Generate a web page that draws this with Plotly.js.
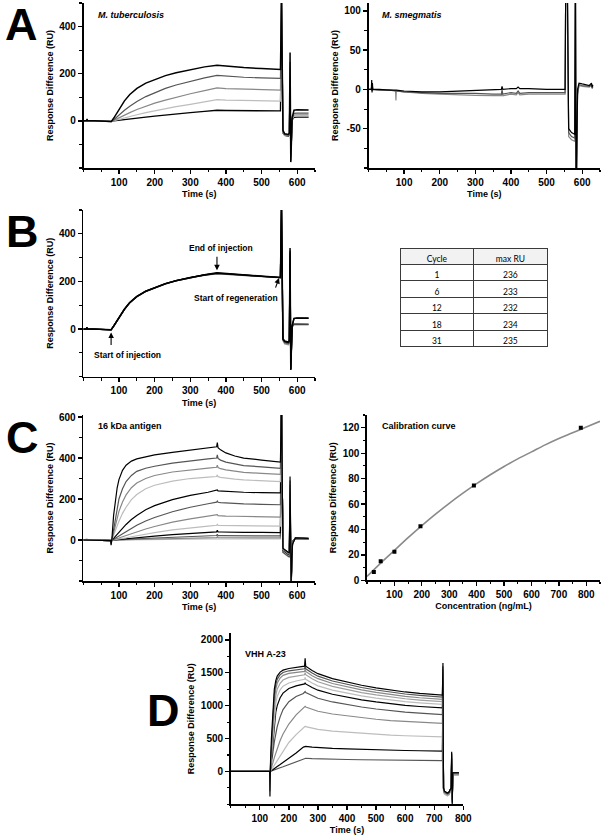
<!DOCTYPE html>
<html>
<head>
<meta charset="utf-8">
<script src="https://cdn.plot.ly/plotly-3.0.1.min.js"></script>
<style>html,body{margin:0;padding:0;background:#fff;}#chart{width:603px;height:838px;}</style>
</head>
<body>
<div id="chart"></div>
<script>
// ---------------- DATA ----------------
// Panel A (M. tuberculosis)
const tA = [0, 9, 10, 11, 30, 60, 78, 85, 90, 100, 115, 130, 150, 175, 200, 230, 260, 300, 340, 375, 400, 450, 500, 553, 556, 560, 565, 575, 578, 580, 582, 586, 591, 600, 632];
const A1 = [0,0,8,0,0,-1,-3,12,25,50,85,112,138,160,176,192,204,218,229,236,232,226,222,218,520,-40,-55,-58,-52,290,-175,15,45,47,46];
const A2 = [0,0,4,0,0,-1,-2,5,12,25,45,62,82,103,120,138,152,168,182,193,190,185,182,180,520,-45,-58,-60,-55,250,-170,10,32,33,33];
const A3 = [0,0,3,0,0,-1,-2,2,6,14,25,35,48,62,75,88,100,115,128,140,137,134,132,130,520,-48,-60,-62,-57,230,-165,8,25,26,26];
const A4 = [0,0,2,0,0,-1,-2,1,3,7,13,19,26,35,43,52,60,70,81,90,88,86,85,84,520,-50,-62,-64,-58,200,-160,6,20,21,21];
const A5 = [0,0,5,0,0,-1,-3,0,1,3,6,9,12,16,20,25,29,35,40,45,44,43,43,42,520,-52,-62,-65,-58,180,-150,4,15,16,16];

// Panel A (M. smegmatis)
const tS = [0, 8, 9, 10, 11, 12, 30, 60, 76, 77, 78, 100, 150, 200, 250, 300, 350, 373, 375, 377, 400, 415, 420, 425, 450, 500, 552, 554, 558, 562, 570, 579, 581, 583, 587, 591, 600, 620, 626, 628, 630];
const S1 = [0,0,12,-4,8,0,0,-1,-1,-1,-1,-2,-3,-3,-2,-1,0,0,4,0,1,1,3,1,1,0,0,150,150,-50,-55,-57,150,-150,0,8,7,5,8,3,6];
const S2 = [0,0,6,-2,4,0,-1,-1,-2,-2,-2,-3,-4,-5,-5,-5,-6,-6,-1,-6,-4,-5,-2,-5,-4,-4,-4,150,150,-55,-60,-62,150,-150,-5,6,5,4,6,2,4];
const S3 = [0,0,4,-2,3,0,-1,-1,-2,-14,-2,-3,-5,-6,-7,-7.5,-8,-8,-2,-8,-6,-7,-4,-7,-6,-6,-6,150,150,-60,-64,-66,150,-150,-8,5,4,3,5,1,3];

// Panel B (repeated cycles)
const tB = [0, 9, 10, 11, 30, 60, 78, 85, 90, 100, 115, 130, 150, 175, 200, 230, 260, 300, 340, 375, 400, 450, 500, 553, 556, 560, 565, 575, 578, 580, 582, 586, 591, 600, 632];
const B1 = [0,0,8,0,0,-1,-3,12,24,48,83,111,137,159,175,191,203,217,228,236,233,227,222,217,520,-40,-50,-54,-48,340,-172,15,45,47,46];
const B2 = [0,0,6,0,0,-1,-3,11,23,47,82,110,136,158,174,190,202,216,227,233,231,225,220,216,520,-45,-58,-62,-56,320,-168,10,22,22,21];
const B3 = [0,0,5,0,0,-1,-3,11,23,46,81,109,135,157,173,189,202,216,226,232,230,225,220,215,520,-48,-62,-66,-58,300,-165,8,18,19,18];
const B4 = [0,0,7,0,0,-1,-3,12,24,47,82,110,136,158,174,190,203,217,227,234,232,226,221,216,520,-42,-52,-56,-50,330,-170,14,44,46,45];
const B5 = [0,0,6,0,0,-1,-3,12,24,48,83,111,137,159,175,191,203,217,228,235,232,226,221,217,520,-44,-55,-58,-52,310,-170,12,20,21,20];
const tableCycle = ['1', '6', '12', '18', '31'];
const tableMaxRU = ['236', '233', '232', '234', '235'];

// Panel C (16 kDa antigen)
const tC = [0, 10, 11, 30, 60, 77, 78, 80, 85, 90, 95, 100, 110, 120, 135, 150, 175, 200, 250, 300, 350, 374, 376, 378, 385, 400, 425, 450, 500, 553, 556, 560, 575, 578, 580, 583, 587, 595, 632];
const C1 = [0,0,0,0,0,-3,-25,0,120,200,255,295,340,365,385,396,407,415,428,440,450,455,475,450,440,425,410,400,390,380,700,-40,-60,-62,310,-200,-20,10,8];
const C2 = [0,0,0,0,0,-3,-20,0,60,120,165,200,250,285,315,335,350,360,375,387,396,400,415,398,390,380,370,363,357,350,700,-42,-62,-64,290,-200,-18,10,8];
const C3 = [0,0,0,0,0,-3,-15,0,35,75,110,140,185,220,255,278,300,315,332,343,351,355,365,353,348,342,335,330,325,320,700,-44,-64,-66,270,-200,-16,10,8];
const C4 = [0,3,0,0,0,-3,-10,0,20,45,70,92,130,160,197,222,250,267,287,300,307,310,318,309,306,302,297,293,289,285,700,-46,-66,-68,250,-210,-14,9,7];
const C5 = [0,0,0,0,0,-3,-8,0,8,18,28,38,58,76,100,120,148,168,197,218,233,240,244,240,239,237,235,233,231,230,700,-48,-68,-70,230,-210,-12,9,7];
const C6 = [0,0,0,0,0,-3,-6,0,4,9,14,20,31,42,58,72,93,110,138,160,177,185,190,184,182,180,178,176,174,172,700,-50,-70,-72,210,-210,-10,9,7];
const C7 = [0,0,0,0,0,-3,-5,0,2,4,7,10,16,22,31,40,54,66,87,103,115,120,124,119,118,117,116,115,113,112,700,-52,-72,-74,190,-220,-10,8,6];
const C8 = [0,4,0,0,0,-3,-4,0,1,2,4,5,8,11,16,21,29,36,49,60,68,72,76,71,71,70,70,69,69,68,700,-54,-74,-76,170,-220,-8,8,6];
const C9 = [0,0,0,0,0,-3,-4,0,0,1,2,3,4,6,9,11,15,19,26,32,37,40,48,39,39,38,38,37,37,36,700,-56,-76,-78,150,-230,-8,8,6];
const C10 = [0,0,0,0,0,-3,-3,0,0,1,1,2,2,3,5,6,8,10,14,18,20,22,28,21,21,21,20,20,20,20,700,-58,-78,-80,130,-230,-6,7,5];
const C11 = [0,0,0,0,0,-3,-3,0,0,0,1,1,1,2,3,3,4,5,7,9,11,12,16,12,11,11,11,11,10,10,700,-60,-80,-82,110,-240,-6,7,5];
const C12 = [0,5,0,0,0,-3,-3,0,0,0,0,0,1,1,1,1,2,2,3,4,5,5,8,5,5,5,5,5,5,5,700,-62,-82,-84,90,-240,-4,6,4];

// Calibration curve
const calConc = [25, 50, 100, 195, 390, 780];
const calResp = [6.5, 15, 22.5, 42.5, 74.5, 120];
const fitConc = [0, 50, 100, 150, 200, 250, 300, 350, 400, 450, 500, 550, 600, 650, 700, 750, 800, 850];
const fitResp = [3, 13.5, 23.5, 33.5, 43, 52, 60.5, 68.5, 76, 83, 89.5, 95.5, 101, 106.5, 111.5, 116, 120.5, 125];

// Panel D (VHH A-23)
const tD = [0, 100, 133, 134, 135, 136, 137, 140, 145, 150, 155, 160, 170, 180, 200, 225, 250, 254, 256, 258, 280, 300, 350, 400, 450, 500, 550, 600, 650, 700, 728, 730, 732, 735, 740, 745, 750, 755, 758, 760, 762, 764, 785];
const D1 = [0,0,0,0,-380,0,150,500,950,1250,1380,1450,1510,1540,1565,1580,1595,1600,1720,1600,1534,1486,1411,1358,1310,1270,1235,1208,1186,1169,1160,1650,-250,-300,-320,-330,-320,-280,-250,300,-500,-20,-20];
const D2 = [0,0,0,0,0,0,120,420,850,1170,1320,1400,1470,1505,1530,1545,1556,1560,1600,1560,1496,1448,1375,1324,1276,1238,1203,1177,1156,1139,1130,1600,-260,-310,-330,-340,-330,-290,-260,280,-480,-25,-25];
const D3 = [0,0,0,0,-300,0,100,350,750,1080,1250,1340,1420,1460,1490,1505,1515,1520,1550,1520,1456,1410,1337,1286,1240,1201,1167,1142,1120,1104,1095,1550,-270,-320,-340,-350,-340,-300,-270,260,-470,-30,-30];
const D4 = [0,0,0,0,0,0,80,290,640,960,1150,1250,1340,1390,1430,1450,1463,1470,1500,1470,1409,1363,1294,1245,1199,1163,1130,1105,1085,1068,1060,1500,-280,-330,-350,-360,-350,-310,-280,240,-460,-35,-35];
const D5 = [0,0,0,0,0,0,60,230,540,840,1030,1140,1240,1295,1345,1375,1392,1400,1430,1400,1343,1301,1237,1191,1149,1115,1085,1062,1043,1028,1020,1450,-290,-340,-360,-370,-360,-320,-290,220,-450,-40,-40];
const D6 = [0,0,0,0,0,0,40,200,500,750,900,1000,1120,1190,1260,1300,1322,1330,1350,1330,1275,1235,1173,1129,1089,1056,1027,1005,987,972,965,1400,-260,-310,-330,-340,-330,-290,-260,200,-440,-45,-45];
const D7 = [0,0,0,0,0,0,25,100,280,450,580,680,830,940,1060,1140,1185,1200,1215,1200,1150,1113,1056,1016,979,949,922,902,885,872,865,1350,-270,-320,-340,-350,-340,-300,-270,180,-430,-50,-50];
const D8 = [0,0,0,0,0,0,15,50,130,210,285,350,470,570,720,860,965,980,990,980,943,915,873,843,815,793,773,758,745,735,730,1300,-280,-330,-350,-360,-350,-310,-280,160,-420,-50,-50];
const D9 = [0,0,0,0,0,0,8,25,60,100,140,180,250,320,440,560,665,680,685,680,657,640,613,595,578,564,551,542,534,528,525,1250,-290,-340,-360,-370,-360,-320,-290,140,-410,-50,-50];
const D10 = [0,0,0,0,0,0,4,12,30,45,60,75,105,135,200,280,370,380,383,380,370,362,350,342,334,328,322,318,314,311,310,1200,-250,-300,-320,-330,-320,-280,-250,120,-400,-20,-20];
const D11 = [0,0,0,0,0,0,2,6,15,25,32,40,55,70,105,150,195,200,201,200,195,191,185,181,177,174,171,169,167,166,165,1150,-260,-310,-330,-340,-330,-290,-260,100,-390,-25,-25];

// ---------------- STYLE ----------------
const W = 603, H = 838;
const K = '#000000', DG = '#555555', G = '#888888', MG = '#a0a0a0', LG = '#bdbdbd';
const FONT = 'Liberation Sans, Arial, sans-serif';

function dx(a, b) { return [a / W, b / W]; }
function dy(top, bottom) { return [1 - bottom / H, 1 - top / H]; }

const traces = [];
function addCurves(t, list, colors, xa, ya, widths) {
  list.forEach((y, i) => {
    traces.push({
      type: 'scatter', mode: 'lines', x: t, y: y, xaxis: xa, yaxis: ya,
      line: { color: colors[i % colors.length], width: widths ? widths[i] : 1.2 },
      hoverinfo: 'skip'
    });
  });
}

addCurves(tA, [A5, A4, A3, A2, A1], [K, LG, G, DG, K], 'x', 'y', [1.3, 1.2, 1.2, 1.2, 1.5]);
addCurves(tS, [S3, S2, S1], [G, DG, K], 'x2', 'y2');
addCurves(tB, [B3, B2, B5, B4, B1], ['#999999', '#666666', '#444444', K, K], 'x3', 'y3', [1.3, 1.3, 1.3, 1.3, 1.5]);
addCurves(tC, [C12, C11, C10, C9, C8, C7, C6, C5, C4, C3, C2, C1], [LG, G, DG, K, LG, G, DG, K, LG, G, DG, K], 'x4', 'y4');
traces.push({ type: 'scatter', mode: 'lines', x: fitConc, y: fitResp, xaxis: 'x5', yaxis: 'y5',
  line: { color: '#8a8a8a', width: 1.6, shape: 'spline' }, hoverinfo: 'skip' });
traces.push({ type: 'scatter', mode: 'markers', x: calConc, y: calResp, xaxis: 'x5', yaxis: 'y5',
  marker: { symbol: 'square', size: 4, color: K }, hoverinfo: 'skip' });
addCurves(tD, [D11, D10, D9, D8, D7, D6, D5, D4, D3, D2, D1], [DG, K, LG, G, DG, K, LG, MG, G, DG, K], 'x6', 'y6');

traces.push({
  type: 'table',
  domain: { x: dx(400.7, 548.3), y: dy(248, 350) },
  columnwidth: [72.6, 75],
  header: { values: ['Cycle', 'max RU'], align: 'center', height: 16,
    fill: { color: '#f2f2f2' }, line: { color: '#3a3a3a', width: 1 },
    font: { family: 'Lato, sans-serif', size: 8.5, color: '#000' } },
  cells: { values: [tableCycle, tableMaxRU], align: 'center', height: 16.5,
    fill: { color: '#ffffff' }, line: { color: '#3a3a3a', width: 1 },
    font: { family: 'Lato, sans-serif', size: 8.5, color: '#000' } }
});

const tickFont = { family: FONT, size: 10, color: K, weight: 700 };
const titleFont = { family: FONT, size: 9, color: K, weight: 700 };
function axis(domain, range, tickvals, minor, anchor, title, ticktext) {
  const a = {
    domain: domain, range: range, anchor: anchor, tickmode: 'array', tickvals: tickvals,
    showline: true, linewidth: 1.6, linecolor: K, mirror: false,
    ticks: 'outside', ticklen: 4, tickwidth: 1.3, tickcolor: K,
    showgrid: false, zeroline: false, fixedrange: true,
    tickfont: tickFont,
    minor: { dtick: minor, tick0: 0, ticks: 'outside', ticklen: 2.5, tickwidth: 1.1, tickcolor: K, showgrid: false },
    title: { text: title, font: titleFont, standoff: 4 }
  };
  if (ticktext) a.ticktext = ticktext;
  return a;
}
const tv100 = [100, 200, 300, 400, 500, 600];
const layout = {
  width: W, height: H, margin: { l: 0, r: 0, t: 0, b: 0 },
  paper_bgcolor: '#fff', plot_bgcolor: 'rgba(0,0,0,0)', showlegend: false,
  font: { family: FONT },
  xaxis: axis(dx(83.5, 315), [0, 650], tv100, 50, 'y', 'Time (s)'),
  yaxis: axis(dy(3, 168), [-200, 500], [0, 200, 400], 100, 'x', 'Response Difference (RU)'),
  xaxis2: axis(dx(368.5, 600), [0, 650], tv100, 50, 'y2', 'Time (s)'),
  yaxis2: axis(dy(3, 168), [-100, 110], [-50, 0, 50, 100], 25, 'x2', 'Response Difference (RU)', ['-50', '0', '50', '100']),
  xaxis3: axis(dx(83.3, 315), [0, 650], tv100, 50, 'y3', 'Time (s)'),
  yaxis3: axis(dy(210, 376.7), [-200, 500], [0, 200, 400], 100, 'x3', 'Response Difference (RU)'),
  xaxis4: axis(dx(83.3, 315), [0, 650], tv100, 50, 'y4', 'Time (s)'),
  yaxis4: axis(dy(415, 581), [-200, 610], [0, 200, 400, 600], 100, 'x4', 'Response Difference (RU)'),
  xaxis5: axis(dx(367, 600), [0, 850], [100, 200, 300, 400, 500, 600, 700, 800], 50, 'y5', 'Concentration (ng/mL)'),
  yaxis5: axis(dy(415, 580.3), [0, 130], [0, 20, 40, 60, 80, 100, 120], 10, 'x5', 'Response Difference (RU)'),
  xaxis6: axis(dx(230.7, 463.3), [0, 800], [100, 200, 300, 400, 500, 600, 700, 800], 50, 'y6', 'Time (s)'),
  yaxis6: axis(dy(633.3, 804.3), [-500, 2100], [0, 500, 1000, 1500, 2000], 250, 'x6', 'Response Difference (RU)'),
  annotations: []
};

function letter(txt, cx, cy) {
  layout.annotations.push({ xref: 'paper', yref: 'paper', x: cx / W, y: 1 - cy / H, text: txt, showarrow: false,
    xanchor: 'center', yanchor: 'middle', font: { family: FONT, size: 45, weight: 700, color: K } });
}
letter('A', 21.5, 24); letter('B', 22, 231); letter('C', 22.5, 437); letter('D', 163, 710);

function label(txt, x, y, italic) {
  layout.annotations.push({ xref: 'paper', yref: 'paper', x: x / W, y: 1 - y / H, text: txt, showarrow: false,
    xanchor: 'left', yanchor: 'middle', font: { family: FONT, size: 9, weight: 700, style: italic ? 'italic' : 'normal', color: K } });
}
label('M. tuberculosis', 95.5, 14.7, true);
label('M. smegmatis', 379.5, 15, true);
label('16 kDa antigen', 95.5, 426);
label('Calibration curve', 379.5, 426);
label('VHH A-23', 242.5, 653.5);

function textB(txt, x, y) {
  layout.annotations.push({ xref: 'paper', yref: 'paper', x: x / W, y: 1 - y / H, text: txt, showarrow: false,
    xanchor: 'center', yanchor: 'middle', font: { family: FONT, size: 8.5, weight: 700, color: K } });
}
textB('End of injection', 221, 248.3);
textB('Start of injection', 127, 355);
textB('Start of regeneration', 236, 298.3);
function arrowB(x, y, ax, ay) {
  layout.annotations.push({ xref: 'x3', yref: 'y3', x: x, y: y, ax: ax, ay: ay, text: '', showarrow: true,
    arrowhead: 2, arrowsize: 1, arrowwidth: 1.1, arrowcolor: K });
}
arrowB(375, 247, 0, -15);
arrowB(78, -14, 0, 14);
arrowB(549, 214, -4, 11);

Plotly.newPlot('chart', traces, layout, { staticPlot: true, displayModeBar: false });
</script>
</body>
</html>
